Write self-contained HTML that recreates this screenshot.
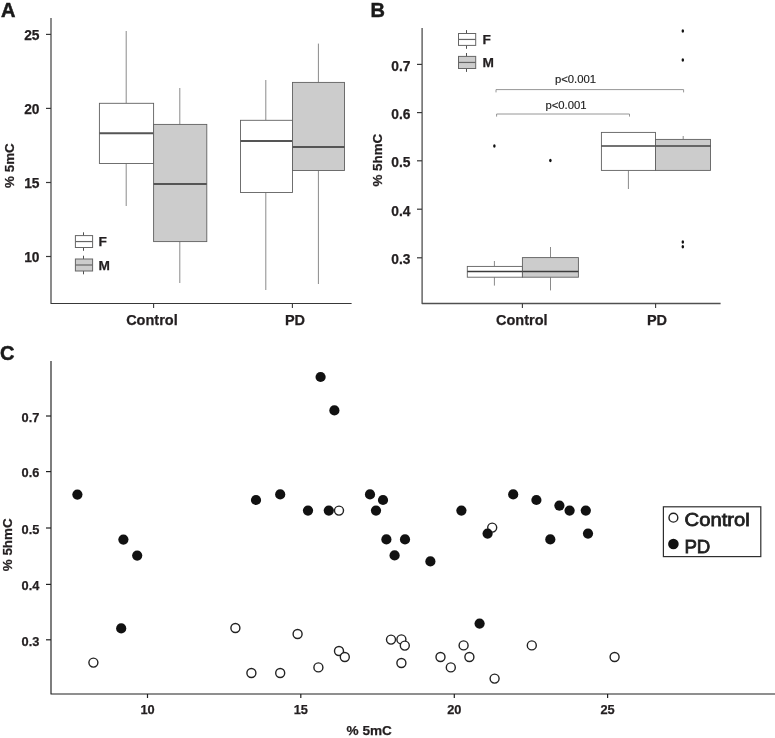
<!DOCTYPE html>
<html lang="en">
<head>
<meta charset="utf-8">
<title>Figure</title>
<style>
html,body{margin:0;padding:0;background:#fff;}
body{width:775px;height:738px;overflow:hidden;}
svg{display:block;}
svg text{font-family:"Liberation Sans",Arial,Helvetica,sans-serif;fill:#231f20;}
.lg{font-size:19px;font-weight:400;fill:#1f1f1f;stroke:#1f1f1f;stroke-width:0.8px;}
.t{font-size:13.8px;font-weight:700;stroke:#231f20;stroke-width:0.25px;}
.xl{font-size:14.5px;font-weight:700;stroke:#231f20;stroke-width:0.25px;}
.yl{font-size:13.4px;font-weight:700;stroke:#231f20;stroke-width:0.25px;}
.c{font-size:12.8px;font-weight:700;stroke:#231f20;stroke-width:0.25px;}
.p{font-size:11.3px;fill:#222;stroke:#222;stroke-width:0.15px;}
.pl{font-size:20px;font-weight:700;fill:#1a1a1a;stroke:#1a1a1a;stroke-width:0.5px;}
</style>
</head>
<body>
<svg width="775" height="738" viewBox="0 0 775 738">
<rect x="0" y="0" width="775" height="738" fill="#ffffff"/>
<!-- Panel A -->
<g id="panelA">
<text class="pl" x="1" y="17">A</text>
<path d="M51 18 V303.5 H351.6" fill="none" stroke="#383838" stroke-width="1.15" stroke-linejoin="round"/>
<line x1="46" y1="34.4" x2="51" y2="34.4" stroke="#383838" stroke-width="1.2"/>
<text class="t" x="39.5" y="40.3" text-anchor="end">25</text>
<line x1="46" y1="108.4" x2="51" y2="108.4" stroke="#383838" stroke-width="1.2"/>
<text class="t" x="39.5" y="114.3" text-anchor="end">20</text>
<line x1="46" y1="182.5" x2="51" y2="182.5" stroke="#383838" stroke-width="1.2"/>
<text class="t" x="39.5" y="188.4" text-anchor="end">15</text>
<line x1="46" y1="256.5" x2="51" y2="256.5" stroke="#383838" stroke-width="1.2"/>
<text class="t" x="39.5" y="262.4" text-anchor="end">10</text>
<line x1="153.6" y1="303.5" x2="153.6" y2="308" stroke="#383838" stroke-width="1.1"/>
<line x1="292.4" y1="303.5" x2="292.4" y2="308" stroke="#383838" stroke-width="1.1"/>
<text class="xl" x="151.9" y="324.8" text-anchor="middle">Control</text>
<text class="xl" x="295" y="324.6" text-anchor="middle">PD</text>
<text class="yl" transform="translate(14 165.6) rotate(-90)" text-anchor="middle">% 5mC</text>
<line x1="126.2" y1="31" x2="126.2" y2="103.3" stroke="#8a8a8a" stroke-width="1"/>
<line x1="126.2" y1="163.5" x2="126.2" y2="206" stroke="#8a8a8a" stroke-width="1"/>
<rect x="99.4" y="103.3" width="54.2" height="60.2" fill="#fff" stroke="#606060" stroke-width="0.9"/>
<line x1="99.4" y1="133.2" x2="153.6" y2="133.2" stroke="#555" stroke-width="1.9"/>
<line x1="179.8" y1="88" x2="179.8" y2="124.4" stroke="#8a8a8a" stroke-width="1"/>
<line x1="179.8" y1="241.6" x2="179.8" y2="283" stroke="#8a8a8a" stroke-width="1"/>
<rect x="153.6" y="124.4" width="53.2" height="117.2" fill="#cccccc" stroke="#606060" stroke-width="0.9"/>
<line x1="153.6" y1="184" x2="206.8" y2="184" stroke="#555" stroke-width="1.9"/>
<line x1="265.8" y1="80" x2="265.8" y2="120.3" stroke="#8a8a8a" stroke-width="1"/>
<line x1="265.8" y1="192.5" x2="265.8" y2="290" stroke="#8a8a8a" stroke-width="1"/>
<rect x="240.5" y="120.3" width="52.0" height="72.2" fill="#fff" stroke="#606060" stroke-width="0.9"/>
<line x1="240.5" y1="141" x2="292.5" y2="141" stroke="#555" stroke-width="1.9"/>
<line x1="318.4" y1="43.6" x2="318.4" y2="82.4" stroke="#8a8a8a" stroke-width="1"/>
<line x1="318.4" y1="170.5" x2="318.4" y2="284" stroke="#8a8a8a" stroke-width="1"/>
<rect x="292.5" y="82.4" width="52.0" height="88.1" fill="#cccccc" stroke="#606060" stroke-width="0.9"/>
<line x1="292.5" y1="147" x2="344.5" y2="147" stroke="#555" stroke-width="1.9"/>
<line x1="83.5" y1="232.29999999999998" x2="83.5" y2="250.8" stroke="#505050" stroke-width="1"/>
<rect x="75.4" y="235.6" width="17.2" height="11.9" fill="#fff" stroke="#666" stroke-width="1"/>
<line x1="75.4" y1="241.55" x2="92.6" y2="241.55" stroke="#666" stroke-width="1.2"/>
<text class="t" style="font-size:13.7px" x="98.4" y="246.2">F</text>
<line x1="83.5" y1="255.7" x2="83.5" y2="274.3" stroke="#505050" stroke-width="1"/>
<rect x="75.4" y="259" width="17.2" height="12" fill="#cccccc" stroke="#666" stroke-width="1"/>
<line x1="75.4" y1="265.0" x2="92.6" y2="265.0" stroke="#666" stroke-width="1.2"/>
<text class="t" style="font-size:13.7px" x="98.4" y="269.7">M</text>
</g>
<!-- Panel B -->
<g id="panelB">
<text class="pl" x="370.5" y="17">B</text>
<path d="M422.1 28 V303.5 H720.6" fill="none" stroke="#505050" stroke-width="1.3" stroke-linejoin="round"/>
<line x1="417" y1="64.4" x2="422" y2="64.4" stroke="#383838" stroke-width="1.2"/>
<text class="t" x="410.5" y="70.8" text-anchor="end">0.7</text>
<line x1="417" y1="112.6" x2="422" y2="112.6" stroke="#383838" stroke-width="1.2"/>
<text class="t" x="410.5" y="119.0" text-anchor="end">0.6</text>
<line x1="417" y1="160.8" x2="422" y2="160.8" stroke="#383838" stroke-width="1.2"/>
<text class="t" x="410.5" y="167.2" text-anchor="end">0.5</text>
<line x1="417" y1="209.2" x2="422" y2="209.2" stroke="#383838" stroke-width="1.2"/>
<text class="t" x="410.5" y="215.6" text-anchor="end">0.4</text>
<line x1="417" y1="257.8" x2="422" y2="257.8" stroke="#383838" stroke-width="1.2"/>
<text class="t" x="410.5" y="264.2" text-anchor="end">0.3</text>
<line x1="522.4" y1="303.5" x2="522.4" y2="308" stroke="#383838" stroke-width="1.1"/>
<line x1="655.6" y1="303.5" x2="655.6" y2="308" stroke="#383838" stroke-width="1.1"/>
<text class="xl" x="521.8" y="325" text-anchor="middle">Control</text>
<text class="xl" x="657" y="325" text-anchor="middle">PD</text>
<text class="yl" transform="translate(382.2 160.2) rotate(-90)" text-anchor="middle">% 5hmC</text>
<line x1="494.4" y1="261" x2="494.4" y2="266.4" stroke="#8a8a8a" stroke-width="1"/>
<line x1="494.4" y1="277.2" x2="494.4" y2="285.6" stroke="#8a8a8a" stroke-width="1"/>
<rect x="467.3" y="266.4" width="55.1" height="10.8" fill="#fff" stroke="#606060" stroke-width="0.9"/>
<line x1="467.3" y1="271.4" x2="522.4" y2="271.4" stroke="#3c3c3c" stroke-width="1.5"/>
<line x1="550.5" y1="247" x2="550.5" y2="257.6" stroke="#8a8a8a" stroke-width="1"/>
<line x1="550.5" y1="277.2" x2="550.5" y2="290.4" stroke="#8a8a8a" stroke-width="1"/>
<rect x="522.4" y="257.6" width="56.0" height="19.6" fill="#cccccc" stroke="#606060" stroke-width="0.9"/>
<line x1="522.4" y1="271.4" x2="578.4" y2="271.4" stroke="#3c3c3c" stroke-width="1.5"/>
<line x1="628.4" y1="170.4" x2="628.4" y2="189" stroke="#8a8a8a" stroke-width="1"/>
<rect x="601.4" y="132.4" width="54.1" height="38.0" fill="#fff" stroke="#606060" stroke-width="0.9"/>
<line x1="601.4" y1="146" x2="655.5" y2="146" stroke="#444" stroke-width="1.7"/>
<line x1="683.2" y1="136" x2="683.2" y2="139.4" stroke="#8a8a8a" stroke-width="1"/>
<rect x="655.5" y="139.4" width="55.0" height="31.0" fill="#cccccc" stroke="#606060" stroke-width="0.9"/>
<line x1="655.5" y1="146" x2="710.5" y2="146" stroke="#444" stroke-width="1.7"/>
<ellipse cx="494.4" cy="146" rx="1.25" ry="1.75" fill="#111"/>
<ellipse cx="550.4" cy="160.4" rx="1.25" ry="1.75" fill="#111"/>
<ellipse cx="682.8" cy="31" rx="1.25" ry="1.75" fill="#111"/>
<ellipse cx="682.8" cy="60" rx="1.25" ry="1.75" fill="#111"/>
<ellipse cx="682.8" cy="242" rx="1.25" ry="1.75" fill="#111"/>
<ellipse cx="682.8" cy="246.8" rx="1.25" ry="1.75" fill="#111"/>
<path d="M496 92.4 V89.6 H683.6 V92.4" fill="none" stroke="#8a8a8a" stroke-width="0.9"/>
<path d="M496.6 116.6 V114 H629.5 V116.6" fill="none" stroke="#8a8a8a" stroke-width="0.9"/>
<text class="p" x="575.5" y="83.2" text-anchor="middle">p&lt;0.001</text>
<text class="p" x="566" y="108.8" text-anchor="middle">p&lt;0.001</text>
<line x1="466.5" y1="30.1" x2="466.5" y2="48.8" stroke="#505050" stroke-width="1"/>
<rect x="458.5" y="33.5" width="17.2" height="11.9" fill="#fff" stroke="#666" stroke-width="1"/>
<line x1="458.5" y1="39.45" x2="475.7" y2="39.45" stroke="#666" stroke-width="1.2"/>
<text class="t" style="font-size:13.7px" x="482.4" y="44.2">F</text>
<line x1="466.5" y1="53.0" x2="466.5" y2="71.9" stroke="#505050" stroke-width="1"/>
<rect x="458.5" y="56.4" width="17.2" height="12.1" fill="#cccccc" stroke="#666" stroke-width="1"/>
<line x1="458.5" y1="62.45" x2="475.7" y2="62.45" stroke="#666" stroke-width="1.2"/>
<text class="t" style="font-size:13.7px" x="482.4" y="67.2">M</text>
</g>
<!-- Panel C -->
<g id="panelC">
<text class="pl" x="0.1" y="359.6">C</text>
<path d="M51 361 V694 H775" fill="none" stroke="#202020" stroke-width="1.15" stroke-linejoin="round"/>
<line x1="46" y1="416" x2="51" y2="416" stroke="#202020" stroke-width="1.2"/>
<text class="c" x="39.4" y="421.7" text-anchor="end">0.7</text>
<line x1="46" y1="471.6" x2="51" y2="471.6" stroke="#202020" stroke-width="1.2"/>
<text class="c" x="39.4" y="477.3" text-anchor="end">0.6</text>
<line x1="46" y1="528" x2="51" y2="528" stroke="#202020" stroke-width="1.2"/>
<text class="c" x="39.4" y="533.7" text-anchor="end">0.5</text>
<line x1="46" y1="584.4" x2="51" y2="584.4" stroke="#202020" stroke-width="1.2"/>
<text class="c" x="39.4" y="590.1" text-anchor="end">0.4</text>
<line x1="46" y1="639.8" x2="51" y2="639.8" stroke="#202020" stroke-width="1.2"/>
<text class="c" x="39.4" y="645.5" text-anchor="end">0.3</text>
<line x1="147.5" y1="694" x2="147.5" y2="698" stroke="#202020" stroke-width="1.2"/>
<text class="c" x="147.5" y="714" text-anchor="middle">10</text>
<line x1="300.8" y1="694" x2="300.8" y2="698" stroke="#202020" stroke-width="1.2"/>
<text class="c" x="300.8" y="714" text-anchor="middle">15</text>
<line x1="454.3" y1="694" x2="454.3" y2="698" stroke="#202020" stroke-width="1.2"/>
<text class="c" x="454.3" y="714" text-anchor="middle">20</text>
<line x1="607.6" y1="694" x2="607.6" y2="698" stroke="#202020" stroke-width="1.2"/>
<text class="c" x="607.6" y="714" text-anchor="middle">25</text>
<text class="yl" style="font-size:13.6px" x="369.2" y="735" text-anchor="middle">% 5mC</text>
<text class="yl" transform="translate(12.4 544.8) rotate(-90)" text-anchor="middle">% 5hmC</text>
<g fill="#fff" stroke="#222" stroke-width="1.4">
<circle cx="93.4" cy="662.6" r="4.5"/>
<circle cx="235.4" cy="628" r="4.5"/>
<circle cx="251.4" cy="673" r="4.5"/>
<circle cx="280.2" cy="673" r="4.5"/>
<circle cx="297.6" cy="634" r="4.5"/>
<circle cx="318.4" cy="667.4" r="4.5"/>
<circle cx="339" cy="651" r="4.5"/>
<circle cx="344.8" cy="657" r="4.5"/>
<circle cx="339" cy="510.6" r="4.5"/>
<circle cx="391" cy="639.6" r="4.5"/>
<circle cx="401.4" cy="639.4" r="4.5"/>
<circle cx="404.8" cy="645.6" r="4.5"/>
<circle cx="401.4" cy="663" r="4.5"/>
<circle cx="440.5" cy="657" r="4.5"/>
<circle cx="450.8" cy="667.4" r="4.5"/>
<circle cx="463.6" cy="645.4" r="4.5"/>
<circle cx="469.4" cy="657" r="4.5"/>
<circle cx="494.6" cy="678.6" r="4.5"/>
<circle cx="492.2" cy="527.6" r="4.5"/>
<circle cx="531.8" cy="645.4" r="4.5"/>
<circle cx="614.6" cy="657" r="4.5"/>
</g>
<g fill="#111">
<circle cx="77.4" cy="494.6" r="5.1"/>
<circle cx="123.4" cy="539.6" r="5.1"/>
<circle cx="137.2" cy="555.6" r="5.1"/>
<circle cx="121.2" cy="628.4" r="5.1"/>
<circle cx="256" cy="500" r="5.1"/>
<circle cx="280.2" cy="494.4" r="5.1"/>
<circle cx="308" cy="510.6" r="5.1"/>
<circle cx="328.8" cy="510.6" r="5.1"/>
<circle cx="320.6" cy="377" r="5.1"/>
<circle cx="334.4" cy="410.4" r="5.1"/>
<circle cx="370" cy="494.4" r="5.1"/>
<circle cx="383" cy="500" r="5.1"/>
<circle cx="376" cy="510.6" r="5.1"/>
<circle cx="386.4" cy="539.4" r="5.1"/>
<circle cx="405" cy="539.4" r="5.1"/>
<circle cx="394.6" cy="555.4" r="5.1"/>
<circle cx="430.4" cy="561.4" r="5.1"/>
<circle cx="461.4" cy="510.6" r="5.1"/>
<circle cx="487.6" cy="533.6" r="5.1"/>
<circle cx="513.2" cy="494.4" r="5.1"/>
<circle cx="536.4" cy="500" r="5.1"/>
<circle cx="559.4" cy="505.6" r="5.1"/>
<circle cx="569.6" cy="510.6" r="5.1"/>
<circle cx="585.8" cy="510.6" r="5.1"/>
<circle cx="588" cy="533.6" r="5.1"/>
<circle cx="550.3" cy="539.4" r="5.1"/>
<circle cx="479.6" cy="623.6" r="5.1"/>
</g>
<rect x="663.4" y="506.8" width="97.4" height="49.8" fill="#fff" stroke="#2e2e2e" stroke-width="1.2"/>
<circle cx="673.4" cy="517.7" r="4.4" fill="#fff" stroke="#222" stroke-width="1.4"/>
<circle cx="673.4" cy="544" r="5.3" fill="#111"/>
<text class="lg" x="684.6" y="526.3" textLength="65.2" lengthAdjust="spacingAndGlyphs">Control</text>
<text class="lg" x="684.4" y="552.8" textLength="26" lengthAdjust="spacingAndGlyphs">PD</text>
</g>
</svg>
</body>
</html>
